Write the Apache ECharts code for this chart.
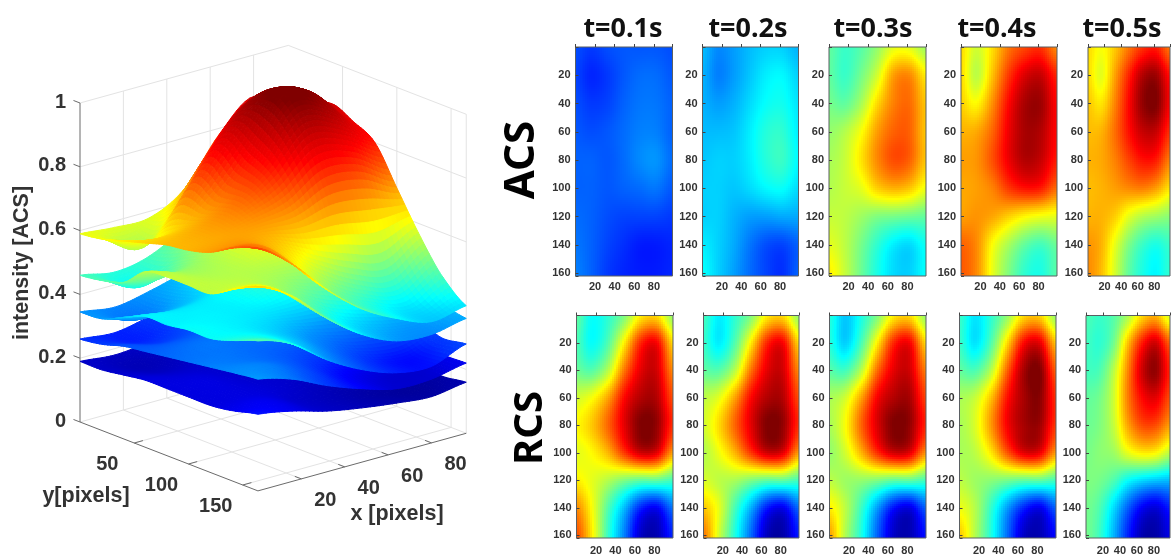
<!DOCTYPE html>
<html><head><meta charset="utf-8">
<style>html,body{margin:0;padding:0;background:#fff;overflow:hidden}#c{width:1173px;height:556px}</style>
<script src="https://cdn.jsdelivr.net/npm/echarts@6/dist/echarts.min.js"></script>
</head><body><div id="c"></div>
<script>
// ---- read values -------------------------------------------------------
const times = ['t=0.1s','t=0.2s','t=0.3s','t=0.4s','t=0.5s'];
const heatX = [0,16,33,49,66,82,99];
const heatY = [0,20,40,60,80,100,120,140,160];
const acs1 = [[.20,.18,.20,.21,.21,.21,.20],[.19,.16,.18,.21,.23,.23,.21],[.20,.18,.19,.22,.24,.24,.22],[.21,.20,.21,.23,.25,.25,.22],[.22,.22,.21,.23,.26,.27,.23],[.22,.22,.21,.22,.23,.24,.21],[.23,.22,.20,.19,.19,.19,.18],[.24,.22,.19,.17,.15,.15,.16],[.25,.22,.18,.16,.15,.15,.16]];
const acs2 = [[.31,.26,.28,.31,.33,.33,.30],[.30,.25,.28,.32,.36,.37,.33],[.30,.28,.30,.34,.38,.39,.35],[.31,.31,.32,.36,.41,.42,.36],[.32,.33,.33,.36,.41,.43,.37],[.33,.33,.32,.34,.37,.38,.34],[.33,.33,.30,.28,.28,.29,.29],[.36,.33,.29,.24,.20,.19,.22],[.38,.33,.28,.23,.19,.17,.22]];
const acs3 = [[.47,.43,.46,.52,.60,.60,.53],[.47,.43,.49,.58,.72,.74,.64],[.49,.47,.54,.66,.75,.77,.68],[.52,.55,.62,.72,.78,.78,.68],[.54,.57,.65,.74,.80,.78,.68],[.55,.57,.60,.67,.70,.68,.61],[.57,.56,.53,.50,.49,.48,.47],[.60,.56,.49,.42,.36,.34,.39],[.64,.57,.48,.40,.34,.33,.38]];
const acs4 = [[.66,.58,.66,.76,.81,.83,.74],[.66,.56,.69,.82,.91,.93,.84],[.67,.63,.74,.87,.96,.97,.87],[.70,.71,.78,.89,.96,.95,.87],[.72,.73,.80,.89,.95,.93,.85],[.71,.72,.75,.82,.86,.85,.77],[.72,.73,.71,.67,.63,.61,.60],[.78,.74,.62,.54,.47,.44,.48],[.79,.74,.60,.50,.42,.40,.46]];
const acs5 = [[.66,.62,.68,.76,.83,.85,.76],[.66,.60,.72,.84,.95,.97,.86],[.68,.65,.75,.87,.98,1.0,.88],[.69,.70,.77,.86,.93,.93,.83],[.70,.71,.75,.81,.86,.85,.75],[.69,.70,.72,.74,.75,.72,.65],[.70,.70,.67,.60,.55,.53,.51],[.73,.70,.60,.50,.43,.40,.43],[.74,.69,.58,.47,.40,.37,.42]];
const rcs1 = [[.47,.38,.42,.50,.64,.66,.52],[.45,.38,.46,.64,.84,.88,.66],[.48,.46,.56,.76,.90,.92,.74],[.58,.62,.72,.87,.95,.95,.80],[.63,.68,.78,.90,1.0,.98,.83],[.60,.63,.70,.82,.92,.90,.72],[.64,.60,.55,.50,.47,.47,.44],[.74,.62,.45,.31,.16,.12,.24],[.80,.64,.42,.25,.07,.05,.16]];
const rcs2 = [[.44,.36,.42,.50,.64,.66,.52],[.43,.36,.46,.64,.84,.88,.66],[.47,.46,.56,.76,.90,.92,.74],[.56,.60,.72,.87,.95,.95,.80],[.58,.66,.78,.90,1.0,.98,.83],[.55,.61,.70,.82,.92,.90,.72],[.59,.56,.54,.50,.47,.47,.44],[.68,.60,.44,.30,.15,.11,.23],[.76,.58,.40,.23,.06,.04,.15]];
const rcs3 = [[.41,.32,.40,.50,.64,.66,.52],[.41,.33,.45,.64,.84,.88,.66],[.46,.44,.56,.77,.90,.92,.75],[.54,.58,.72,.88,.95,.96,.81],[.54,.62,.78,.91,1.0,.98,.84],[.52,.58,.70,.83,.92,.90,.73],[.56,.53,.52,.50,.47,.47,.44],[.64,.56,.43,.28,.14,.10,.22],[.72,.55,.40,.22,.07,.05,.14]];
const rcs4 = [[.43,.35,.42,.52,.66,.67,.52],[.43,.35,.46,.66,.87,.90,.68],[.47,.45,.56,.78,.96,1.0,.78],[.54,.57,.69,.86,.96,.99,.83],[.54,.59,.73,.88,.96,.97,.82],[.54,.56,.65,.79,.90,.89,.72],[.56,.53,.51,.49,.47,.47,.44],[.61,.55,.42,.28,.16,.11,.22],[.68,.55,.40,.23,.07,.05,.13]];
const rcs5 = [[.45,.43,.46,.54,.66,.70,.58],[.44,.42,.49,.68,.85,.92,.78],[.44,.45,.56,.74,.92,.98,.84],[.47,.49,.58,.75,.87,.90,.80],[.48,.50,.57,.71,.80,.80,.72],[.49,.51,.53,.60,.64,.63,.56],[.50,.49,.45,.38,.34,.32,.31],[.49,.45,.34,.22,.12,.09,.15],[.49,.43,.30,.16,.05,.04,.10]];
// heights of the five stacked surfaces
const surfX = [0,16,32,48,64,80,96];
const surfY = [0,20,40,60,80,100,120,140,164];
const surf1 = [[.19,.18,.19,.20,.21,.21,.20],[.19,.17,.18,.20,.22,.23,.21],[.20,.18,.19,.21,.23,.24,.22],[.21,.20,.20,.22,.25,.25,.22],[.21,.21,.20,.22,.24,.25,.22],[.21,.21,.20,.20,.21,.22,.20],[.21,.21,.20,.18,.17,.17,.17],[.22,.22,.19,.17,.15,.14,.15],[.24,.22,.19,.17,.155,.145,.16]];
const surf2 = [[.26,.25,.27,.29,.31,.33,.30],[.27,.25,.27,.30,.34,.36,.32],[.29,.27,.29,.32,.37,.39,.35],[.30,.30,.31,.35,.39,.41,.36],[.31,.32,.32,.35,.38,.39,.34],[.32,.32,.31,.31,.32,.32,.29],[.33,.32,.30,.27,.25,.25,.25],[.34,.33,.29,.24,.21,.20,.22],[.35,.32,.27,.23,.20,.20,.22]];
const surf3 = [[.345,.33,.35,.38,.42,.46,.43],[.35,.32,.36,.40,.46,.48,.44],[.38,.36,.38,.43,.48,.50,.46],[.41,.40,.41,.45,.50,.51,.46],[.41,.41,.41,.44,.48,.47,.42],[.42,.41,.40,.39,.39,.38,.37],[.42,.41,.38,.34,.31,.30,.31],[.44,.42,.37,.31,.26,.24,.27],[.47,.43,.35,.29,.25,.24,.28]];
const surf4 = [[.46,.44,.46,.52,.60,.66,.60],[.47,.42,.48,.56,.66,.70,.63],[.49,.47,.52,.60,.70,.72,.65],[.55,.52,.55,.63,.72,.73,.64],[.56,.54,.56,.62,.68,.67,.60],[.56,.55,.55,.56,.58,.56,.52],[.56,.56,.53,.49,.46,.44,.43],[.60,.58,.50,.42,.38,.36,.38],[.64,.58,.48,.40,.35,.34,.36]];
const surf5 = [[.59,.58,.58,.64,.78,.87,.78],[.60,.54,.62,.77,.89,.92,.83],[.62,.60,.74,.87,.96,.95,.87],[.64,.65,.71,.83,.985,.945,.84],[.66,.68,.72,.79,.90,.87,.80],[.67,.68,.69,.70,.75,.74,.685],[.69,.69,.65,.59,.54,.51,.57],[.73,.70,.60,.50,.44,.41,.47],[.76,.68,.57,.48,.42,.38,.40]];
const xTicks3D = [20,40,60,80];
const yTicks3D = [50,100,150];
const zTicks3D = [0,0.2,0.4,0.6,0.8,1];
// colour position on the jet map for a surface height, read from the surfaces
const colourZ = [.13,.20,.26,.345,.46,.60,.82,.97];
const colourC = [.02,.08,.17,.27,.44,.62,.875,1];

// ---- layout ------------------------------------------------------------
const panels = [
  {g:acs1,l:575.5,r:672.5,t:47,b:276},{g:acs2,l:702.5,r:798.5,t:47,b:276},{g:acs3,l:829,r:926,t:47,b:276},{g:acs4,l:961,r:1057,t:47,b:276},{g:acs5,l:1088,r:1185,t:47,b:276},
  {g:rcs1,l:576.5,r:673,t:315.5,b:543.5},{g:rcs2,l:703.5,r:799,t:315.5,b:543.5},{g:rcs3,l:829.5,r:926,t:315.5,b:543.5},{g:rcs4,l:959.5,r:1056,t:315.5,b:543.5},{g:rcs5,l:1086,r:1183,t:315.5,b:543.5}
];
const titleX = [623,748,873,997,1122];
const sans = 'Liberation Sans, Arial, sans-serif';

function jet(v){
  v = Math.max(0,Math.min(1,v));
  const ch = c => Math.round(255*Math.max(0,Math.min(1,1.5-Math.abs(4*v-c))));
  return 'rgb('+ch(3)+','+ch(2)+','+ch(1)+')';
}
function zToC(z){
  if(z<=colourZ[0])return colourC[0];
  for(let i=0;i<colourZ.length-1;i++) if(z<=colourZ[i+1]) return colourC[i]+(z-colourZ[i])/(colourZ[i+1]-colourZ[i])*(colourC[i+1]-colourC[i]);
  return 1;
}
function cr(a,b,c,d,t){return b+.5*t*(c-a+t*(2*a-5*b+4*c-d+t*(3*(b-c)+d-a)));}
function sample(g,xs,ys,x,y){ // display shading between the read values
  const fi=(arr,v)=>{let i=0;while(i<arr.length-2&&v>arr[i+1])i++;return [i,Math.max(0,Math.min(1,(v-arr[i])/(arr[i+1]-arr[i])))];};
  const [i,tx]=fi(xs,x),[j,ty]=fi(ys,y);
  const row=r=>{const R=g[Math.max(0,Math.min(g.length-1,r))],n=R.length-1,c=k=>R[Math.max(0,Math.min(n,k))];return cr(c(i-1),c(i),c(i+1),c(i+2),tx);};
  return cr(row(j-1),row(j),row(j+1),row(j+2),ty);
}

const xAxis=[],yAxis=[],grid=[],series=[];
const lab=v=>(v>0&&v%20===0)?String(v):'';
panels.forEach((p,k)=>{
  grid.push({left:p.l,top:p.t,width:p.r-p.l,height:p.b-p.t,show:true,borderColor:'#5a5f63',borderWidth:1,backgroundColor:'transparent',z:5});
  const ax={type:'value',gridIndex:k,silent:true,splitLine:{show:false},
    axisLine:{show:false},axisTick:{inside:true,length:3,lineStyle:{color:'#444',width:1}},
    axisLabel:{fontFamily:sans,fontSize:11,fontWeight:'bold',color:'#333',margin:5,formatter:lab,hideOverlap:false,showMinLabel:true,showMaxLabel:true},z:6};
  xAxis.push(Object.assign({},ax,{min:0,max:99,interval:20,position:'bottom',axisLabel:Object.assign({},ax.axisLabel,{margin:k>=5?7:5})}));
  yAxis.push(Object.assign({},ax,{min:0,max:162,interval:20,inverse:true,position:'left'}));
  const data=[];
  heatY.forEach((y,j)=>heatX.forEach((x,i)=>data.push([x,y,p.g[j][i],i,j])));
  series.push({type:'custom',coordinateSystem:'cartesian2d',xAxisIndex:k,yAxisIndex:k,silent:true,animation:false,clip:true,
    data,encode:{x:0,y:1},z:2,
    renderItem:(params,api)=>{
      const i=api.value(3),j=api.value(4);
      const x0=i?(heatX[i-1]+heatX[i])/2:0,x1=i<heatX.length-1?(heatX[i]+heatX[i+1])/2:99;
      const y0=j?(heatY[j-1]+heatY[j])/2:0,y1=j<heatY.length-1?(heatY[j]+heatY[j+1])/2:162;
      const a=api.coord([x0,y0]),b=api.coord([x1,y1]);
      const L=Math.round(a[0]),R=Math.round(b[0]),T=Math.round(a[1]),B=Math.round(b[1]);
      const step=2,ch=[];
      for(let py=T;py<B;py+=step){const h=Math.min(step,B-py);
        for(let px=L;px<R;px+=step){const w=Math.min(step,R-px);
          const dx=x0+(px+w/2-a[0])/(b[0]-a[0])*(x1-x0),dy=y0+(py+h/2-a[1])/(b[1]-a[1])*(y1-y0);
          ch.push({type:'rect',shape:{x:px,y:py,width:w,height:h},style:{fill:jet(sample(p.g,heatX,heatY,dx,dy))},silent:true});
        }}
      return {type:'group',children:ch,silent:true};
    }});
});

// ---- 3D panel: a plain pixel-plane grid, projected through its axes ------
const g3=panels.length;
grid.push({left:0,top:0,width:490,height:556,show:false});
xAxis.push({type:'value',gridIndex:g3,min:0,max:490,show:false});
yAxis.push({type:'value',gridIndex:g3,min:0,max:556,inverse:true,show:false});
const proj=(x,y,z)=>[80+2.17*x+1.085*y,422-0.6*x+0.42*y-319*z];
const X1=96,Y1=164;
const lines=[];
const L=(a,b,c,w)=>lines.push({a,b,c,w});
const gc='#e3e3e3';
zTicks3D.forEach(z=>{L([0,0,z],[X1,0,z],gc,1);L([X1,0,z],[X1,Y1,z],gc,1);});
xTicks3D.forEach(x=>{L([x,0,0],[x,0,1],gc,1);L([x,0,0],[x,Y1,0],gc,1);});
yTicks3D.forEach(y=>{L([X1,y,0],[X1,y,1],gc,1);L([0,y,0],[X1,y,0],gc,1);});
L([X1,Y1,0],[X1,Y1,1],gc,1);
const ac='#6b6b6b';
L([0,0,0],[0,0,1],ac,1);L([0,0,0],[0,Y1,0],ac,1);L([0,Y1,0],[X1,Y1,0],ac,1);
zTicks3D.forEach(z=>L([0,0,z],[0,-6,z],ac,1));
xTicks3D.forEach(x=>L([x,Y1,0],[x,Y1-6,0],ac,1));
yTicks3D.forEach(y=>L([0,y,0],[4,y,0],ac,1));
series.push({type:'custom',coordinateSystem:'cartesian2d',xAxisIndex:g3,yAxisIndex:g3,silent:true,animation:false,clip:false,z:1,
  data:lines.map((l,i)=>[i]),encode:{x:-1,y:-1},
  renderItem:(params,api)=>{const l=lines[api.value(0)];const a=api.coord(proj(...l.a)),b=api.coord(proj(...l.b));
    return {type:'line',shape:{x1:a[0],y1:a[1],x2:b[0],y2:b[1]},style:{stroke:l.c,lineWidth:l.w},silent:true};}});

const surfaces=[surf1,surf2,surf3,surf4,surf5];
const cells=[];
surfaces.forEach((s,k)=>{for(let j=0;j<surfY.length-1;j++)for(let i=surfX.length-2;i>=0;i--)cells.push([k,i,j]);});
const N=8;
series.push({type:'custom',coordinateSystem:'cartesian2d',xAxisIndex:g3,yAxisIndex:g3,silent:true,animation:false,clip:false,z:2,
  data:cells,encode:{x:-1,y:-1},
  renderItem:(params,api)=>{
    const s=surfaces[api.value(0)],i=api.value(1),j=api.value(2);
    const xa=surfX[i],xb=surfX[i+1],ya=surfY[j],yb=surfY[j+1];
    const pts=[],zs=[];
    for(let v=0;v<=N;v++){pts[v]=[];zs[v]=[];for(let u=0;u<=N;u++){
      const x=xa+(xb-xa)*u/N,y=ya+(yb-ya)*v/N,z=sample(s,surfX,surfY,x,y);
      zs[v][u]=z;pts[v][u]=api.coord(proj(x,y,z));}}
    const ch=[];
    for(let v=0;v<N;v++)for(let u=N-1;u>=0;u--){
      const c=jet(zToC((zs[v][u]+zs[v][u+1]+zs[v+1][u]+zs[v+1][u+1])/4));
      ch.push({type:'polygon',shape:{points:[pts[v][u],pts[v][u+1],pts[v+1][u+1],pts[v+1][u]]},style:{fill:c,stroke:c,lineWidth:1},silent:true});
    }
    return {type:'group',children:ch,silent:true};
  }});

// tick labels of the 3D panel
const t3=[];
zTicks3D.forEach(z=>t3.push({p:[0,0,z],text:String(z),dx:-14,dy:-1,align:'right'}));
xTicks3D.forEach(x=>t3.push({p:[x,Y1,0],text:String(x),dx:24,dy:22,align:'center'}));
yTicks3D.forEach(y=>t3.push({p:[0,y,0],text:String(y),dx:-27,dy:21,align:'center'}));
series.push({type:'custom',coordinateSystem:'cartesian2d',xAxisIndex:g3,yAxisIndex:g3,silent:true,animation:false,clip:false,z:3,
  data:t3.map((l,i)=>[i]),encode:{x:-1,y:-1},
  renderItem:(params,api)=>{const l=t3[api.value(0)];const a=api.coord(proj(...l.p));
    return {type:'text',style:{x:a[0]+l.dx,y:a[1]+l.dy,text:l.text,align:l.align,verticalAlign:'middle',font:'bold 20px '+sans,fill:'#333'},silent:true};}});

const txt=(x,y,text,font,fill,rot)=>({type:'text',x,y,rotation:rot||0,silent:true,z:10,style:{x:0,y:0,text,font,fill,align:'center',verticalAlign:'middle'}});
const noto='"Noto Sans", sans-serif';
const graphic=[
  ...times.map((t,i)=>txt(titleX[i],29,t,'bold 27px '+noto,'#111')),
  txt(522,160,'ACS','bold 42px '+noto,'#000',Math.PI/2),
  txt(531,428,'RCS','bold 40px '+noto,'#000',Math.PI/2),
  txt(22,263,'intensity [ACS]','bold 21.5px '+sans,'#333',Math.PI/2),
  txt(86,496,'y[pixels]','bold 21.5px '+sans,'#333'),
  txt(397,514,'x [pixels]','bold 21.5px '+sans,'#333')
];

const chart=echarts.init(document.getElementById('c'),null,{renderer:'canvas',width:1173,height:556});
chart.setOption({animation:false,backgroundColor:'#fff',grid,xAxis,yAxis,series,graphic});
</script></body></html>
